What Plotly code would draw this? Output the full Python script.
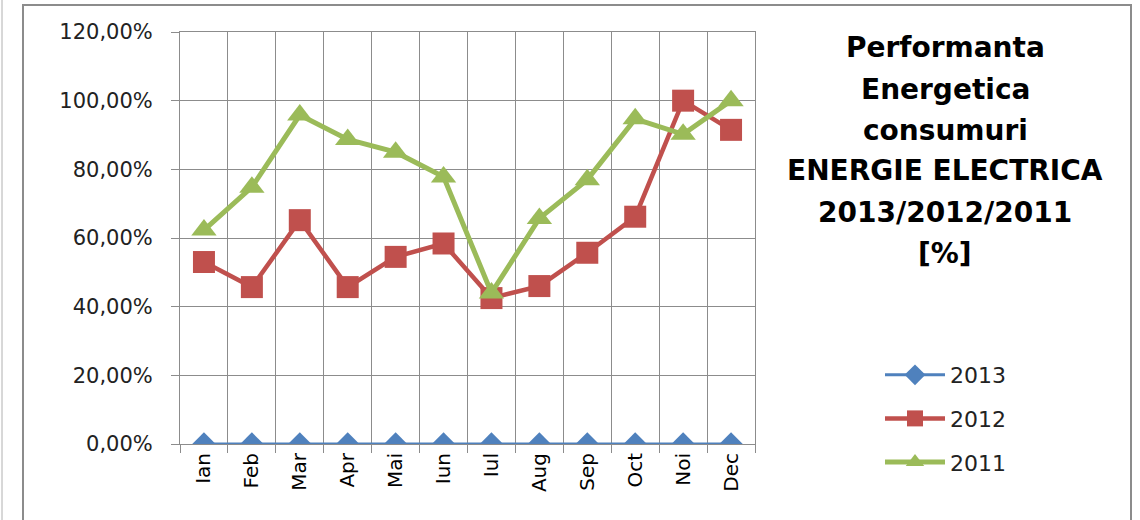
import plotly.graph_objects as go

luni = ['Ian', 'Feb', 'Mar', 'Apr', 'Mai', 'Iun', 'Iul', 'Aug', 'Sep', 'Oct', 'Noi', 'Dec']
v2013 = [0, 0, 0, 0, 0, 0, 0, 0, 0, 0, 0, 0]
v2012 = [0.530, 0.457, 0.652, 0.457, 0.545, 0.584, 0.425, 0.460, 0.557, 0.662, 1.000, 0.915]
v2011 = [0.623, 0.748, 0.958, 0.887, 0.850, 0.778, 0.440, 0.657, 0.770, 0.947, 0.902, 1.000]

titlu = ['Performanta', 'Energetica', 'consumuri', 'ENERGIE ELECTRICA', '2013/2012/2011', '[%]']

FONT = "DejaVu Sans"

fig = go.Figure()
fig.add_trace(go.Scatter(
    x=luni, y=v2013, mode='lines+markers', name='2013', legendgroup='a',
    line=dict(color='#4F81BD', width=3),
    marker=dict(symbol='diamond', size=18, color='#4F81BD')
))
fig.add_trace(go.Scatter(
    x=luni, y=v2012, mode='lines+markers', name='2012', legendgroup='b',
    line=dict(color='#C0504D', width=4.5),
    marker=dict(symbol='square', size=22, color='#C0504D')
))
fig.add_trace(go.Scatter(
    x=luni, y=v2011, mode='lines+markers', name='2011', legendgroup='c',
    line=dict(color='#9BBB59', width=5),
    marker=dict(symbol='triangle-up', size=22, color='#9BBB59')
))

# chenar grafic (coordonate in pixeli din imagine)
L, R, T, B = 180, 755, 32, 444
def px(x):
    return (x - L) / (R - L)
def py(y):
    return (B - y) / (B - T)

fig.add_shape(type='rect', xref='paper', yref='paper',
              x0=px(23), x1=px(1131), y0=py(530), y1=py(5),
              line=dict(color='#8c8c8c', width=2), layer='below')
fig.add_shape(type='line', xref='paper', yref='paper',
              x0=px(2), x1=px(2), y0=py(530), y1=py(0),
              line=dict(color='#b0b0b0', width=1), layer='below')

for i, rand in enumerate(titlu):
    fig.add_annotation(
        xref='paper', yref='paper', x=px(945), y=py(48 + 41 * i),
        xanchor='center', yanchor='middle', text='<b>' + rand + '</b>',
        showarrow=False, font=dict(family=FONT, size=28, color='black')
    )

fig.update_layout(
    width=1140, height=520,
    margin=dict(l=L, r=1140 - R, t=T, b=520 - B),
    paper_bgcolor='white', plot_bgcolor='white',
    separators=',.',
    font=dict(family=FONT, color='#222222'),
    showlegend=True,
    legend=dict(x=px(880), y=py(354), xanchor='left', yanchor='top',
                font=dict(size=22, family=FONT), itemwidth=60,
                tracegroupgap=12, bgcolor='rgba(0,0,0,0)'),
    xaxis=dict(type='category', range=[-0.5, 11.5], tickson='boundaries', showgrid=True,
               gridcolor='#8c8c8c', gridwidth=1, ticks='outside', ticklen=8,
               tickcolor='#8c8c8c', tickangle=-90, tickfont=dict(size=20, color='black'),
               showline=True, linecolor='#8c8c8c', mirror=True, zeroline=False),
    yaxis=dict(range=[0, 1.2], dtick=0.2, tickformat='.2%', showgrid=True,
               gridcolor='#8c8c8c', gridwidth=1, ticks='outside', ticklen=8,
               ticklabelstandoff=14,
               tickcolor='#8c8c8c', tickfont=dict(size=21, color='#222222'),
               showline=True, linecolor='#8c8c8c', mirror=True, zeroline=False),
)

fig.write_html("out.html", config={'displayModeBar': False},
               post_script="document.body.style.margin='0';")
